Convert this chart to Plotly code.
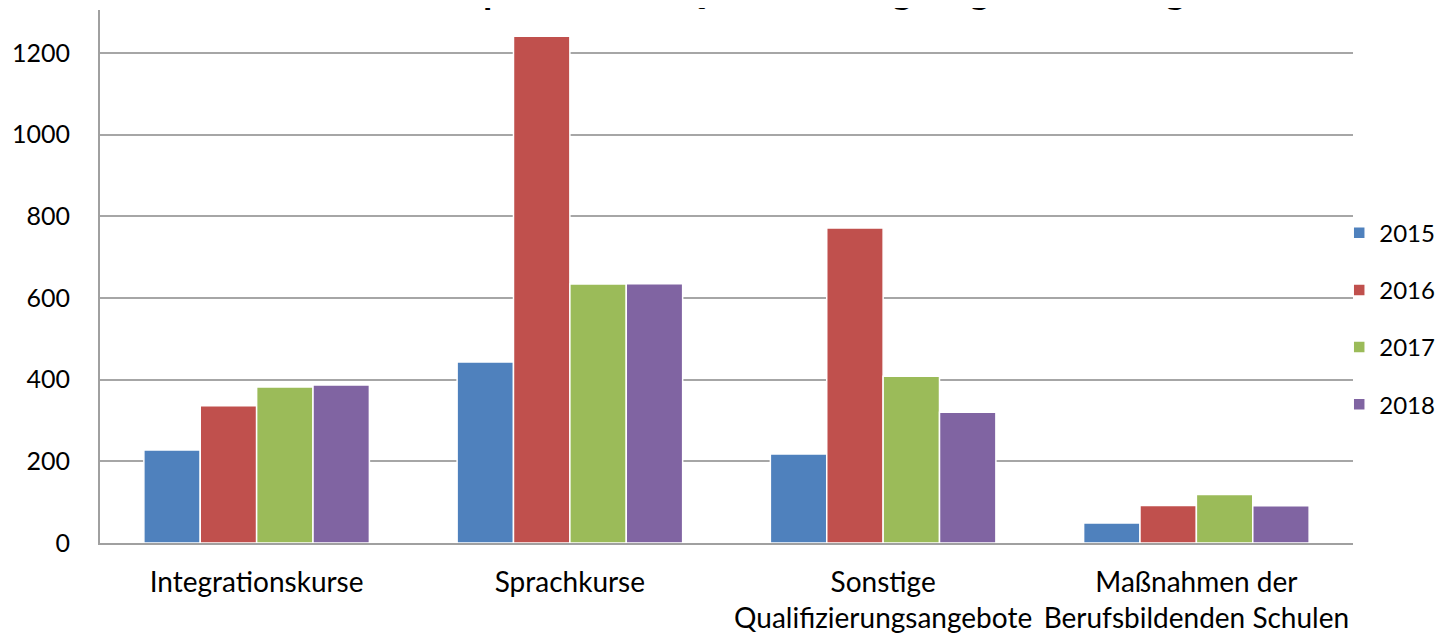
import plotly.graph_objects as go

categories = ["Integrationskurse", "Sprachkurse", "Sonstige<br>Qualifizierungsangebote", "Maßnahmen der<br>Berufsbildenden Schulen"]
years = ["2015", "2016", "2017", "2018"]
values_2015 = [228, 443, 218, 49]
values_2016 = [336, 1241, 771, 92]
values_2017 = [382, 634, 408, 119]
values_2018 = [387, 635, 320, 91]
colors = ["#4F81BD", "#C0504D", "#9BBB59", "#8064A2"]
title_text = "Teilnehmer an Sprach- und Qualifizierungsangeboten insgesamt"

series = [values_2015, values_2016, values_2017, values_2018]
FONT = "Lato"

fig = go.Figure()
for i, (yr, vals) in enumerate(zip(years, series)):
    fig.add_trace(go.Bar(
        x=categories, y=vals, name=yr,
        marker=dict(color=colors[i], line=dict(color="white", width=1.5)),
        legendgroup=yr,
    ))

fig.update_layout(
    width=1448, height=635,
    paper_bgcolor="white", plot_bgcolor="white",
    margin=dict(l=92, r=103, t=2, b=100, autoexpand=False),
    barmode="group", bargap=0.28, bargroupgap=0.0,
    font=dict(family=FONT, size=25, color="#000000"),
    legend=dict(x=0.989, xanchor="left", y=0.421, yanchor="middle",
                font=dict(family=FONT, size=24), traceorder="grouped",
                tracegroupgap=23, bgcolor="rgba(0,0,0,0)"),
    showlegend=True,
)
fig.add_annotation(text="<b>" + title_text + "</b>", xref="paper", yref="paper",
                   x=0.52, xanchor="center", y=1.0, yanchor="middle", yshift=21,
                   showarrow=False, font=dict(family=FONT, size=38, color="#000000"))
fig.update_xaxes(showline=True, linecolor="#A0A0A0", linewidth=2, ticks="",
                 tickfont=dict(family=FONT, size=28), showgrid=False,
                 ticklabelstandoff=13)
fig.update_yaxes(range=[0, 1305], tickvals=[0, 200, 400, 600, 800, 1000, 1200],
                 showline=True, linecolor="#A0A0A0", linewidth=2,
                 showgrid=True, gridcolor="#A6A6A6", gridwidth=2, zeroline=False,
                 ticks="", ticklabelstandoff=23, tickfont=dict(family=FONT, size=25))

fig.write_html("out.html")
